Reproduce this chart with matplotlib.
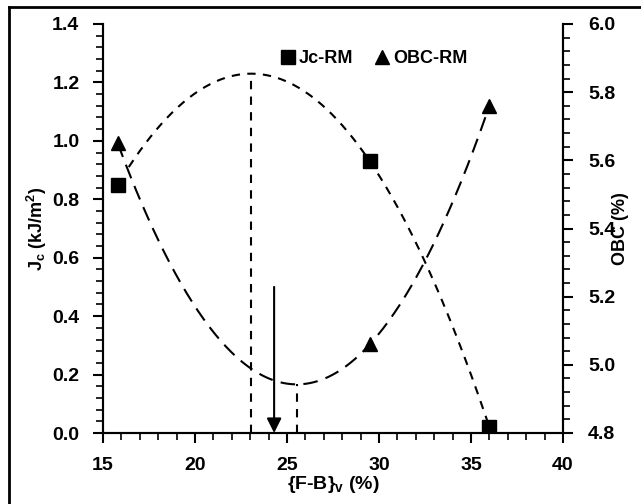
import numpy as np
import matplotlib
matplotlib.use("Agg")
import matplotlib.pyplot as plt
from matplotlib.ticker import MultipleLocator
from matplotlib.lines import Line2D

plt.rcParams['font.family'] = ['Liberation Sans', 'DejaVu Sans']
plt.rcParams['font.weight'] = 'bold'
plt.rcParams['mathtext.fontset'] = 'custom'
plt.rcParams['mathtext.rm'] = 'Liberation Sans:bold'
plt.rcParams['mathtext.bf'] = 'Liberation Sans:bold'
plt.rcParams['mathtext.default'] = 'bf'

# Data
fb = [15.8, 29.5, 36.0]
jc = [0.85, 0.93, 0.02]
obc = [5.65, 5.06, 5.76]
arrow_x = 24.3
arrow_top = 0.5

fig = plt.figure(figsize=(6.41, 5.04), dpi=100)
ax = fig.add_axes([103/641, 1-433/504, (563-103)/641, (433-24)/504])
ax2 = ax.twinx()

# trend curves (quadratic fits)
cj = np.polyfit(fb, jc, 2)
co = np.polyfit(fb, obc, 2)
xj = np.linspace(16.4, fb[-1], 200)
xo = np.linspace(fb[0], fb[-1], 200)
ax.plot(xj, np.polyval(cj, xj), color='black', lw=1.5, dashes=(4, 3.5))
ax2.plot(xo, np.polyval(co, xo), color='black', lw=1.5, dashes=(7, 4))

ax.plot(fb, jc, 's', color='black', ms=10, zorder=5)
ax2.plot(fb, obc, '^', color='black', ms=10, zorder=5)

# vertical guides at extrema
xj_peak = -cj[1] / (2 * cj[0])
yj_peak = np.polyval(cj, xj_peak)
xo_min = -co[1] / (2 * co[0])
yo_min = np.polyval(co, xo_min)
ax.plot([xj_peak, xj_peak], [0, yj_peak], color='black', lw=1.5, dashes=(4, 3.5))
ax2.plot([xo_min, xo_min], [4.8, yo_min], color='black', lw=1.5, dashes=(4, 3.5))

ax.annotate('', xy=(arrow_x, 0.0), xytext=(arrow_x, arrow_top),
            arrowprops=dict(arrowstyle='-|>', color='black', lw=1.5,
                            mutation_scale=22, shrinkA=0, shrinkB=0))

ax.set_xlim(15, 40)
ax.set_ylim(0, 1.4)
ax2.set_ylim(4.8, 6.0)

ax.xaxis.set_major_locator(MultipleLocator(5))
ax.xaxis.set_minor_locator(MultipleLocator(1))
ax.yaxis.set_major_locator(MultipleLocator(0.2))
ax.yaxis.set_minor_locator(MultipleLocator(0.04))
ax2.yaxis.set_major_locator(MultipleLocator(0.2))
ax2.yaxis.set_minor_locator(MultipleLocator(0.04))
ax.yaxis.set_major_formatter(matplotlib.ticker.FormatStrFormatter('%.1f'))
ax2.yaxis.set_major_formatter(matplotlib.ticker.FormatStrFormatter('%.1f'))

for a in (ax, ax2):
    a.spines['top'].set_visible(False)
    for s in a.spines.values():
        s.set_linewidth(1.5)
    a.tick_params(which='major', direction='out', length=7, width=1.5, labelsize=14)
    a.tick_params(which='minor', direction='out', length=5, width=1.2)
ax.tick_params(axis='x', pad=10)
ax.tick_params(axis='y', pad=10)
ax2.tick_params(axis='y', pad=11)
for lab in ax.get_xticklabels() + ax.get_yticklabels() + ax2.get_yticklabels():
    lab.set_fontweight('bold')

ax.set_xlabel('{F-B}$_\\mathbf{v}$ (%)', fontsize=14, fontweight='bold', labelpad=0)
ax.set_ylabel('J$_\\mathbf{c}$ (kJ/m$^\\mathbf{2}$)', fontsize=13, fontweight='bold', labelpad=2)
ax2.set_ylabel('OBC (%)', fontsize=13, fontweight='bold', labelpad=-2)

handles = [Line2D([], [], marker='s', color='black', ls='none', ms=10),
           Line2D([], [], marker='^', color='black', ls='none', ms=10)]
leg = ax.legend(handles, ['Jc-RM', 'OBC-RM'], loc='upper center', bbox_to_anchor=(0.585, 0.975),
                ncol=2, frameon=False, handletextpad=0.0, columnspacing=1.0,
                handlelength=1.2, prop={'size': 13, 'weight': 'bold'})

# figure frame (left and top edges)
fig.add_artist(Line2D([9/641, 9/641], [0, 1-7/504], color='black', lw=2, transform=fig.transFigure))
fig.add_artist(Line2D([9/641, 1], [1-7/504, 1-7/504], color='black', lw=2, transform=fig.transFigure))

fig.savefig('out.png', dpi=100)
